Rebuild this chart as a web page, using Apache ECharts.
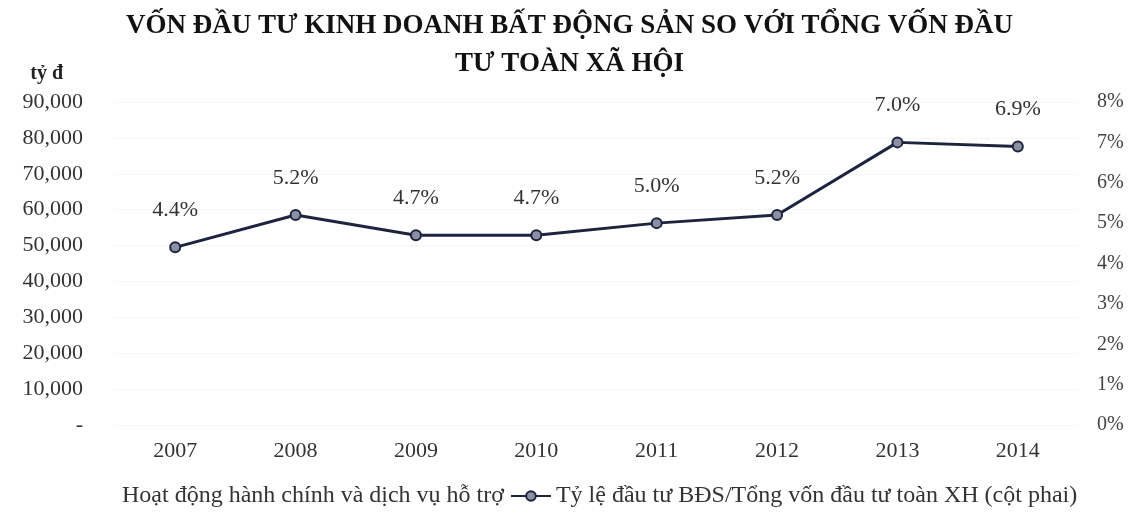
<!DOCTYPE html>
<html>
<head>
<meta charset="utf-8">
<script src="https://cdn.jsdelivr.net/npm/echarts@6/dist/echarts.min.js"></script>
<style>
html,body{margin:0;padding:0;background:#fff;}
#chart{width:1139px;height:517px;}
</style>
</head>
<body>
<div id="chart"></div>
<script>
const titleText = 'VỐN ĐẦU TƯ KINH DOANH BẤT ĐỘNG SẢN SO VỚI TỔNG VỐN ĐẦU\nTƯ TOÀN XÃ HỘI';
const years = ['2007', '2008', '2009', '2010', '2011', '2012', '2013', '2014'];
const barSeriesName = 'Hoạt động hành chính và dịch vụ hỗ trợ';
const lineSeriesName = 'Tỷ lệ đầu tư BĐS/Tổng vốn đầu tư toàn XH (cột phai)';
// bar values are not legible in the (washed-out) reference
const adminServices = [null, null, null, null, null, null, null, null];
const shareOfTotal = [4.4, 5.2, 4.7, 4.7, 5.0, 5.2, 7.0, 6.9];
const leftAxis = { min: 0, max: 90000, interval: 10000, unit: 'tỷ đ' };
const rightAxis = { min: 0, max: 8, interval: 1 };

const serif = '"Liberation Serif", "Times New Roman", serif';
const chart = echarts.init(document.getElementById('chart'));
chart.setOption({
  animation: false,
  backgroundColor: '#fff',
  title: {
    text: titleText,
    left: 'center',
    top: 2,
    textStyle: { fontFamily: serif, fontWeight: 'bold', fontSize: 27, color: '#111', lineHeight: 38 }
  },
  grid: { left: 115, right: 61, top: 102, bottom: 92, containLabel: false },
  legend: {
    bottom: 4,
    left: 72,
    itemGap: 6,
    itemWidth: 40,
    itemHeight: 12,
    textStyle: { fontFamily: serif, fontSize: 24, color: '#333' },
    data: [
      { name: barSeriesName, icon: 'rect', itemStyle: { color: 'rgba(0,0,0,0)' } },
      { name: lineSeriesName }
    ]
  },
  xAxis: {
    type: 'category',
    data: years,
    boundaryGap: true,
    axisLine: { show: false },
    axisTick: { show: false },
    axisLabel: { fontFamily: serif, fontSize: 22, color: '#333', margin: 15 }
  },
  yAxis: [
    {
      type: 'value',
      min: leftAxis.min, max: leftAxis.max, interval: leftAxis.interval,
      name: leftAxis.unit,
      nameLocation: 'end',
      nameGap: 18,
      nameTextStyle: { fontFamily: serif, fontWeight: 'bold', fontSize: 20, color: '#222', align: 'right', padding: [0, 52, 0, 0] },
      axisLine: { show: false },
      axisTick: { show: false },
      splitLine: { show: true, lineStyle: { color: '#f3f3f3', type: 'dashed' } },
      axisLabel: {
        fontFamily: serif, fontSize: 22, color: '#333', margin: 32,
        formatter: v => v === 0 ? '-' : v.toLocaleString('en-US')
      }
    },
    {
      type: 'value',
      min: rightAxis.min, max: rightAxis.max, interval: rightAxis.interval,
      axisLine: { show: false },
      axisTick: { show: false },
      splitLine: { show: false },
      axisLabel: { fontFamily: serif, fontSize: 20, color: '#444', margin: 19, formatter: v => v + '%' }
    }
  ],
  series: [
    {
      name: barSeriesName,
      type: 'bar',
      yAxisIndex: 0,
      data: adminServices,
      itemStyle: { color: 'rgba(0,0,0,0)' }
    },
    {
      name: lineSeriesName,
      type: 'line',
      yAxisIndex: 1,
      data: shareOfTotal,
      symbol: 'circle',
      symbolSize: 10,
      lineStyle: { color: '#1d2440', width: 3 },
      itemStyle: { color: '#8b90a3', borderColor: '#1d2440', borderWidth: 2 },
      label: {
        show: true, position: 'top', distance: 20,
        fontFamily: serif, fontSize: 22, color: '#333',
        formatter: p => p.value.toFixed(1) + '%'
      }
    }
  ]
});
</script>
</body>
</html>
